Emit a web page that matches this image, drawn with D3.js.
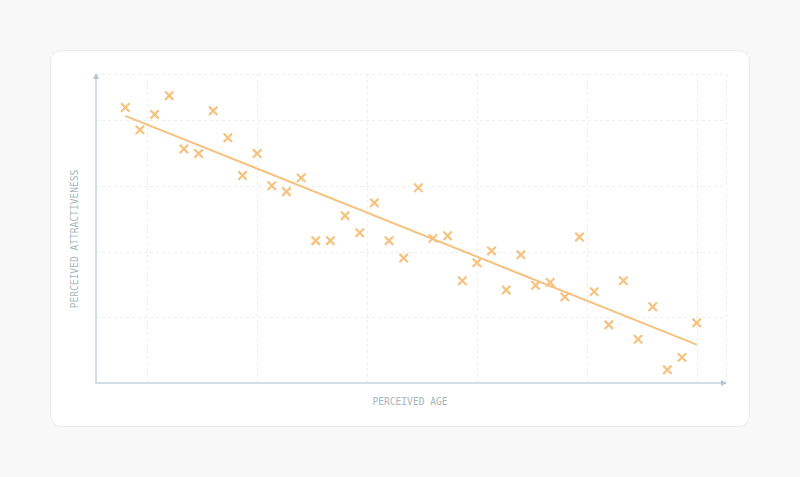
<!DOCTYPE html>
<html>
<head>
<meta charset="utf-8">
<script src="https://cdn.jsdelivr.net/npm/d3@7"></script>
<style>
  html, body { margin: 0; padding: 0; background: #f8f8f8; }
  svg { display: block; }
</style>
</head>
<body>
<svg id="drawing_region"></svg>
<script>
// perceived age (index) and perceived attractiveness
const ages = [2,3,4,5,6,7,8,9,10,11,12,13,14,15,16,17,18,19,20,21,
              22,23,24,25,26,27,28,29,30,31,32,33,34,35,36,37,38,39,40,41];
const attractiveness = [8.38,7.70,8.17,8.74,7.12,6.98,8.28,7.46,6.31,6.98,
                        6.00,5.82,6.24,4.33,4.33,5.09,4.57,5.48,4.33,3.80,
                        5.94,4.40,4.48,3.11,3.66,4.02,2.83,3.90,2.97,3.06,
                        2.62,4.44,2.78,1.77,3.11,1.33,2.32,0.40,0.78,1.83];
const xGrid = [3.5, 11, 18.5, 26, 33.5, 41];
const yGrid = [2, 4, 6, 8];
const xLabel = 'PERCEIVED AGE';
const yLabel = 'PERCEIVED ATTRACTIVENESS';

const config = {
    width: 800,
    height: 477,
    card: {x: 50, y: 50, w: 700, h: 377},
    margin: {top: 74, right: 74, bottom: 94, left: 96}
};

const points = ages.map((a, i) => ({x: a, y: attractiveness[i]}));

const svg = d3.select('#drawing_region')
    .attr('width', config.width)
    .attr('height', config.height);

svg.append('rect')
    .attr('x', config.card.x + 0.5)
    .attr('y', config.card.y + 0.5)
    .attr('width', config.card.w - 1)
    .attr('height', config.card.h - 1)
    .attr('rx', 11)
    .attr('fill', '#ffffff')
    .attr('stroke', '#ececec');

const x0 = config.margin.left, x1 = config.width - config.margin.right;
const y0 = config.height - config.margin.bottom, y1 = config.margin.top;

const xScale = d3.scaleLinear().domain([0, 43]).range([x0, x1]);
const yScale = d3.scaleLinear().domain([0, 9.4]).range([y0, y1]);

// grid
const grid = svg.append('g')
    .attr('stroke', '#eeeeee')
    .attr('stroke-width', 1)
    .attr('stroke-dasharray', '3,3');

grid.selectAll('.vx')
    .data(xGrid.concat([43]))
    .enter()
    .append('line')
    .attr('x1', d => Math.round(xScale(d)) + 0.5)
    .attr('x2', d => Math.round(xScale(d)) + 0.5)
    .attr('y1', y1)
    .attr('y2', y0);

grid.selectAll('.hy')
    .data(yGrid.concat([9.4]))
    .enter()
    .append('line')
    .attr('x1', x0)
    .attr('x2', x1)
    .attr('y1', d => Math.round(yScale(d)) + 0.5)
    .attr('y2', d => Math.round(yScale(d)) + 0.5);

// axes with arrow heads
const axisColor = '#d2dfe2';
svg.append('line')
    .attr('x1', x0).attr('x2', x0)
    .attr('y1', y0 + 1).attr('y2', y1 + 4)
    .attr('stroke', axisColor).attr('stroke-width', 2);
svg.append('line')
    .attr('x1', x0 - 1).attr('x2', x1 - 4)
    .attr('y1', y0).attr('y2', y0)
    .attr('stroke', axisColor).attr('stroke-width', 2);
svg.append('path')
    .attr('d', `M${x0},${y1 - 1} L${x0 - 3},${y1 + 5} L${x0 + 3},${y1 + 5} Z`)
    .attr('fill', '#b6c6cb');
svg.append('path')
    .attr('d', `M${x1 + 1},${y0} L${x1 - 5},${y0 - 3} L${x1 - 5},${y0 + 3} Z`)
    .attr('fill', '#b6c6cb');

// least squares fit line
const mx = d3.mean(points, d => d.x), my = d3.mean(points, d => d.y);
const slope = d3.sum(points, d => (d.x - mx) * (d.y - my)) / d3.sum(points, d => (d.x - mx) ** 2);
const fit = v => my + slope * (v - mx);
const ext = d3.extent(ages);

const orange = '#f6c27f';
svg.append('line')
    .attr('x1', xScale(ext[0])).attr('y1', yScale(fit(ext[0])))
    .attr('x2', xScale(ext[1])).attr('y2', yScale(fit(ext[1])))
    .attr('stroke', orange)
    .attr('stroke-width', 2);

// cross markers
const s = 4.2;
svg.selectAll('.mark')
    .data(points)
    .enter()
    .append('path')
    .attr('d', d => {
        const cx = xScale(d.x), cy = yScale(d.y);
        return `M${cx - s},${cy - s}L${cx + s},${cy + s}M${cx - s},${cy + s}L${cx + s},${cy - s}`;
    })
    .attr('stroke', orange)
    .attr('stroke-width', 2.2)
    .attr('fill', 'none');

// labels
const labelFont = '"DejaVu Sans Mono", "Liberation Mono", monospace';
svg.append('text')
    .attr('x', 410)
    .attr('y', 405)
    .attr('text-anchor', 'middle')
    .style('font-family', labelFont)
    .style('font-size', '9.6px')
    .style('fill', '#a9b6ba')
    .text(xLabel);

svg.append('text')
    .attr('transform', `translate(78, 239) rotate(-90)`)
    .attr('text-anchor', 'middle')
    .style('font-family', labelFont)
    .style('font-size', '9.6px')
    .style('fill', '#a9b6ba')
    .text(yLabel);
</script>
</body>
</html>
